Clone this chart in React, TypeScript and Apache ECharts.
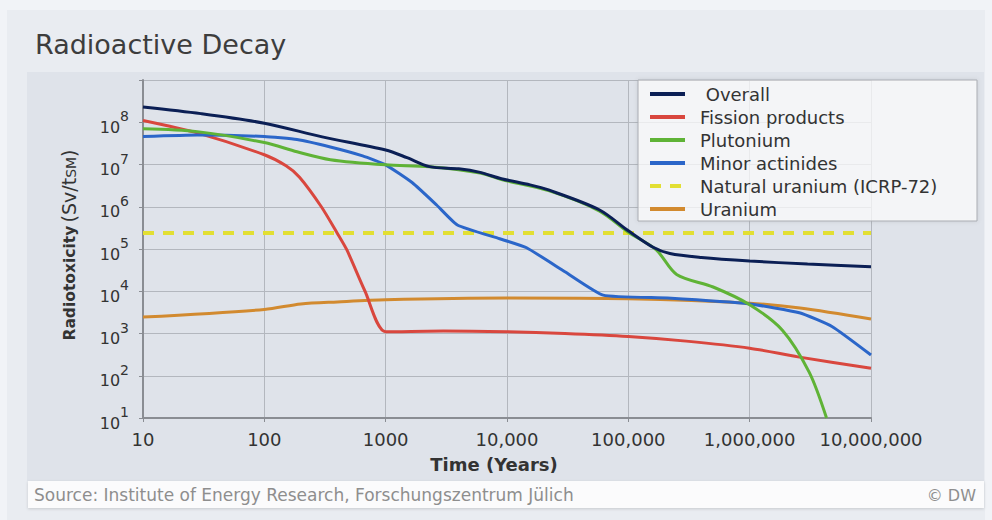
import { useEffect, useRef } from "react";
import * as echarts from "echarts";

// ---- Data ----
const xTickLabels = ["10", "100", "1000", "10,000", "100,000", "1,000,000", "10,000,000"];
const yTickExponents = ["1", "2", "3", "4", "5", "6", "7", "8"];

const seriesNames = [" Overall", "Fission products", "Plutonium", "Minor actinides", "Natural uranium (ICRP-72)", "Uranium"];

const overallYears = [10, 30, 100, 300, 1000, 1500, 2300, 4000, 6000, 9000, 15500, 22000, 57500, 100000, 160000, 220000, 400000, 1e6, 3e6, 1e7];
const overallValues = [2.3e8, 1.6e8, 9.5e7, 4.5e7, 2.2e7, 1.45e7, 8.9e6, 7.9e6, 6.5e6, 4.6e6, 3.3e6, 2.5e6, 8.5e5, 2.7e5, 1.1e5, 7.8e4, 6.3e4, 5.2e4, 4.4e4, 3.8e4];

const fissionYears = [10, 28, 100, 151, 195, 295, 398, 479, 676, 1000, 3000, 10000, 30000, 100000, 300000, 1e6, 2.5e6, 1e7];
const fissionValues = [1.1e8, 5.6e7, 1.7e7, 9.3e6, 5.0e6, 1.0e6, 2.4e5, 9.5e4, 1.0e4, 1.1e3, 1.15e3, 1.1e3, 1.0e3, 8.5e2, 6.6e2, 4.5e2, 2.8e2, 1.5e2];

const plutoniumYears = [10, 28, 100, 186, 350, 1000, 2300, 6000, 9000, 22000, 57500, 100000, 170000, 250000, 500000, 1e6, 1.86e6, 3.1e6, 4.3e6];
const plutoniumValues = [7e7, 6e7, 3.3e7, 2e7, 1.3e7, 9.8e6, 8.9e6, 6.3e6, 4.4e6, 2.4e6, 8e5, 2.5e5, 9.5e4, 2.5e4, 1.26e4, 4.8e3, 1.2e3, 1.2e2, 10];

const minorYears = [10, 28, 100, 186, 350, 646, 1000, 1660, 2630, 3900, 8700, 14500, 30000, 62000, 210000, 1e6, 2.57e6, 4.8e6, 1e7];
const minorValues = [4.6e7, 5e7, 4.6e7, 3.9e7, 2.6e7, 1.6e7, 9.8e6, 3.7e6, 1.1e6, 3.7e5, 1.75e5, 1.07e5, 2.9e4, 8.1e3, 6.9e3, 5e3, 3.1e3, 1.45e3, 3.1e2];

const naturalYears = [10, 1e7];
const naturalValues = [2.4e5, 2.4e5];

const uraniumYears = [10, 100, 200, 400, 1000, 10000, 100000, 1e6, 2.6e6, 1e7];
const uraniumValues = [2.45e3, 3.7e3, 5e3, 5.6e3, 6.3e3, 6.9e3, 6.6e3, 5.2e3, 4e3, 2.2e3];

const pairs = (xs: number[], ys: number[]) => xs.map((x, i) => [x, ys[i]]);

const FONT = "DejaVu Sans";

export default function App() {
  const ref = useRef<HTMLDivElement>(null);

  useEffect(() => {
    document.body.style.margin = "0";
    const chart = echarts.init(ref.current!, null, { renderer: "svg" });

    const lineSeries = (name: string, data: number[][], color: string, extra: any = {}) => ({
      name,
      type: "line",
      data,
      symbol: "none",
      showSymbol: false,
      smooth: 0.3,
      lineStyle: { color, width: 3 },
      itemStyle: { color },
      ...extra,
    });

    chart.setOption({
      animation: false,
      backgroundColor: "#f1f3f7",
      title: {
        text: "Radioactive Decay",
        left: 30,
        top: 26,
        textStyle: { fontFamily: FONT, fontSize: 27, fontWeight: "normal", color: "#3d3d3d" },
      },
      legend: {
        orient: "vertical",
        left: 643,
        top: 80,
        padding: 5,
        itemWidth: 35,
        itemHeight: 14,
        itemGap: 5,
        itemStyle: { opacity: 0, borderWidth: 0 },
        lineStyle: { width: 4 },
        data: seriesNames,
        textStyle: { fontFamily: FONT, fontSize: 18, color: "#333", lineHeight: 18, padding: [0, 0, 0, 10] },
      },
      grid: { left: 143, right: 121, top: 80, bottom: 102 },
      xAxis: {
        type: "log",
        logBase: 10,
        min: 10,
        max: 1e7,
        axisLine: { show: true, lineStyle: { color: "#8a8d93", width: 2 } },
        axisTick: { show: true, length: 4, lineStyle: { color: "#8a8d93" } },
        splitLine: { show: true, lineStyle: { color: "#b3b7be", width: 1 } },
        axisLabel: {
          margin: 12,
          fontFamily: FONT,
          fontSize: 18,
          color: "#333",
          formatter: (v: number) => xTickLabels[Math.round(Math.log10(v)) - 1] ?? "",
        },
      },
      yAxis: {
        type: "log",
        logBase: 10,
        min: 10,
        max: 1e9,
        axisLine: { show: true, lineStyle: { color: "#8a8d93", width: 2 } },
        axisTick: { show: true, length: 4, lineStyle: { color: "#8a8d93" } },
        splitLine: { show: true, lineStyle: { color: "#b3b7be", width: 1 } },
        axisLabel: {
          margin: 14,
          formatter: (v: number) => {
            const e = yTickExponents[Math.round(Math.log10(v)) - 1];
            return e ? `{b|10}{s|${e}}` : "";
          },
          rich: {
            b: { fontFamily: FONT, fontSize: 16, color: "#333", lineHeight: 26, verticalAlign: "bottom" },
            s: { fontFamily: FONT, fontSize: 14, color: "#333", lineHeight: 14, verticalAlign: "top" },
          },
        },
      },
      graphic: [
        { type: "rect", z: -10, silent: true, shape: { x: 7, y: 10, width: 978, height: 510 }, style: { fill: "#e9ecf1" } },
        { type: "rect", z: -9, silent: true, shape: { x: 27, y: 72, width: 957, height: 409 }, style: { fill: "#dfe3ea" } },
        {
          type: "rect", z: -8, silent: true,
          shape: { x: 28, y: 481, width: 956, height: 27 },
          style: { fill: "#fbfbfc", shadowBlur: 3, shadowColor: "rgba(0,0,0,0.15)", shadowOffsetY: 1 },
        },
        {
          type: "text", z: 5, silent: true, x: 34, y: 495,
          style: { text: "Source: Institute of Energy Research, Forschungszentrum Jülich", font: `17px '${FONT}'`, fill: "#8e8e8e", align: "left", verticalAlign: "middle" },
        },
        {
          type: "text", z: 5, silent: true, x: 976, y: 495,
          style: { text: "© DW", font: `16px '${FONT}'`, fill: "#8e8e8e", align: "right", verticalAlign: "middle" },
        },
        {
          type: "rect", z: 3, silent: true,
          shape: { x: 638, y: 80, width: 339, height: 141 },
          style: { fill: "rgba(255,255,255,0.72)", stroke: "#a9acb2", lineWidth: 1, shadowBlur: 4, shadowColor: "rgba(0,0,0,0.12)" },
        },
        {
          type: "text", z: 5, silent: true, x: 494, y: 464,
          style: { text: "Time (Years)", font: `bold 18px '${FONT}'`, fill: "#333", align: "center", verticalAlign: "middle" },
        },
        {
          type: "text", z: 5, silent: true, x: 67, y: 245, rotation: Math.PI / 2,
          style: {
            text: "{b|Radiotoxicity} {r|(Sv/t}{s|SM}{r|)}",
            align: "center",
            verticalAlign: "middle",
            rich: {
              b: { fontFamily: FONT, fontSize: 15.5, fontWeight: "bold", fill: "#333", lineHeight: 22, verticalAlign: "bottom" },
              r: { fontFamily: FONT, fontSize: 19, fill: "#333", lineHeight: 22, verticalAlign: "bottom" },
              s: { fontFamily: FONT, fontSize: 14, fill: "#333", lineHeight: 10, verticalAlign: "bottom" },
            },
          },
        },
      ],
      series: [
        lineSeries(seriesNames[5], pairs(uraniumYears, uraniumValues), "#d28a2f"),
        lineSeries(seriesNames[4], pairs(naturalYears, naturalValues), "#e2df33", {
          smooth: false,
          lineStyle: { color: "#e2df33", width: 4, type: [11, 9] },
        }),
        lineSeries(seriesNames[1], pairs(fissionYears, fissionValues), "#d9473e", { smooth: 0.25 }),
        lineSeries(seriesNames[3], pairs(minorYears, minorValues), "#2b66c9", { smooth: 0.15 }),
        lineSeries(seriesNames[2], pairs(plutoniumYears, plutoniumValues), "#5fb336"),
        lineSeries(seriesNames[0], pairs(overallYears, overallValues), "#0b1f55"),
      ],
    });

    return () => chart.dispose();
  }, []);

  return <div ref={ref} style={{ width: 992, height: 520 }} />;
}
